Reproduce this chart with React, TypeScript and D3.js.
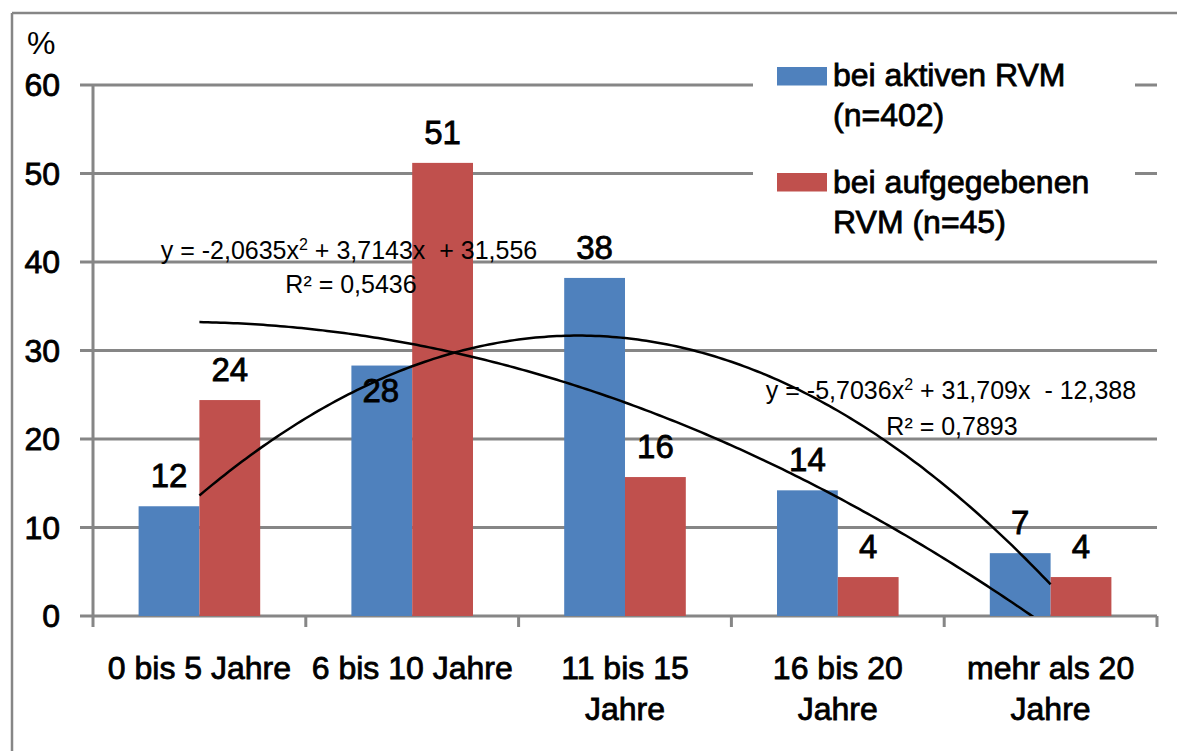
import React from "react";
import * as d3 from "d3";

const categories = ["0 bis 5 Jahre", "6 bis 10 Jahre", "11 bis 15 Jahre", "16 bis 20 Jahre", "mehr als 20 Jahre"];
const categoryLines = [["0 bis 5 Jahre"], ["6 bis 10 Jahre"], ["11 bis 15", "Jahre"], ["16 bis 20", "Jahre"], ["mehr als 20", "Jahre"]];
const activeValues = [12.4, 28.3, 38.2, 14.2, 7.1];
const abandonedValues = [24.4, 51.2, 15.7, 4.4, 4.4];
const seriesNames = [["bei aktiven RVM", "(n=402)"], ["bei aufgegebenen", "RVM (n=45)"]];
const yTicks = [0, 10, 20, 30, 40, 50, 60];
// polynomial trendline coefficients [a, b, c] for a*x^2 + b*x + c
const trendActive = [-5.7036, 31.709, -12.388];
const trendAbandoned = [-2.0635, 3.7143, 31.556];
const trendLabelActive = ["y = -5,7036x", "2", " + 31,709x  - 12,388", "R² = 0,7893"];
const trendLabelAbandoned = ["y = -2,0635x", "2", " + 3,7143x  + 31,556", "R² = 0,5436"];

const BLUE = "#4F81BD";
const RED = "#C0504D";
const GRID = "#868686";
const FONT = "'Liberation Sans', Arial, sans-serif";

export default function App() {
  const W = 1177, H = 751;
  const left = 93, right = 1157, top = 85, bottom = 616;
  const x = d3.scaleBand<string>().domain(categories).range([left, right]).paddingInner(1.5 / 3.5).paddingOuter(0.75 / 3.5);
  const sub = d3.scaleBand<number>().domain([0, 1]).range([0, x.bandwidth()]);
  const y = d3.scaleLinear().domain([0, 60]).range([bottom, top]);
  const step = x.step();
  const xNum = d3.scaleLinear().domain([1, 5]).range([
    (x(categories[0]) as number) + x.bandwidth() / 2,
    (x(categories[4]) as number) + x.bandwidth() / 2,
  ]);
  const xs = d3.range(1, 5.0001, 0.02);
  const poly = (c: number[]) => (v: number) => c[0] * v * v + c[1] * v + c[2];
  const line = d3.line<number>();
  const pathFor = (c: number[]) => {
    const f = poly(c);
    return line(xs.map((v) => [xNum(v), y(f(v))] as [number, number]));
  };
  const series = [
    { values: activeValues, color: BLUE },
    { values: abandonedValues, color: RED },
  ];
  const heavy = { stroke: "#000", strokeWidth: 0.8 };

  return (
    <svg width={W} height={H} style={{ position: "absolute", left: 0, top: 0, background: "#fff" }} fontFamily={FONT}>
      <defs>
        <clipPath id="plot">
          <rect x={left} y={top - 40} width={right - left} height={bottom - top + 40} />
        </clipPath>
      </defs>
      {/* frame */}
      <line x1={12} y1={13} x2={W} y2={13} stroke={GRID} strokeWidth={2.5} />
      <line x1={12} y1={13} x2={12} y2={H} stroke={GRID} strokeWidth={2.5} />

      {/* gridlines */}
      {yTicks.map((t) => (
        <g key={t}>
          <line x1={left - 13} x2={right} y1={y(t)} y2={y(t)} stroke={GRID} strokeWidth={3} />
          <text x={60} y={y(t) + 11} textAnchor="end" fontSize={32} fill="#000" {...heavy}>{t}</text>
        </g>
      ))}
      <text x={27} y={54} fontSize={32} fill="#000">%</text>
      {/* y axis */}
      <line x1={left} x2={left} y1={top} y2={bottom} stroke={GRID} strokeWidth={3} />
      {/* x ticks */}
      {d3.range(categories.length + 1).map((i) => (
        <line key={i} x1={left + i * step} x2={left + i * step} y1={bottom} y2={bottom + 11} stroke={GRID} strokeWidth={3} />
      ))}

      {/* bars */}
      {series.map((s, si) =>
        s.values.map((v, i) => (
          <rect key={si + "-" + i} x={(x(categories[i]) as number) + (sub(si) as number)} y={y(v)} width={sub.bandwidth()} height={y(0) - y(v)} fill={s.color} />
        ))
      )}

      {/* legend background */}
      <rect x={753} y={42} width={382} height={205} fill="#fff" />
      {series.map((s, si) => (
        <g key={si}>
          <rect x={777} y={si === 0 ? 67 : 173} width={50} height={18.5} fill={s.color} />
          {seriesNames[si].map((ln, li) => (
            <text key={li} x={833} y={(si === 0 ? 86 : 193) + li * 39.5} fontSize={32} fill="#000" {...heavy}>{ln}</text>
          ))}
        </g>
      ))}

      {/* trendlines */}
      <g clipPath="url(#plot)">
        <path d={pathFor(trendActive) || ""} fill="none" stroke="#000" strokeWidth={2.5} />
        <path d={pathFor(trendAbandoned) || ""} fill="none" stroke="#000" strokeWidth={2.5} />
      </g>

      {/* data labels */}
      {series.map((s, si) =>
        s.values.map((v, i) => {
          const cx = (x(categories[i]) as number) + (sub(si) as number) + sub.bandwidth() / 2;
          const inside = si === 0 && i === 1;
          return (
            <text key={si + "-" + i} x={cx - (inside ? 1 : 0)} y={inside ? y(v) + 36 : y(v) - 19} textAnchor="middle" fontSize={33} fill="#000" {...heavy}>
              {Math.round(v)}
            </text>
          );
        })
      )}

      {/* trend labels */}
      <text x={349} y={259} textAnchor="middle" fontSize={25} fill="#000" style={{ whiteSpace: "pre" }}>
        {trendLabelAbandoned[0]}
        <tspan dy={-9} fontSize={16}>{trendLabelAbandoned[1]}</tspan>
        <tspan dy={9}>{trendLabelAbandoned[2]}</tspan>
      </text>
      <text x={351} y={293} textAnchor="middle" fontSize={25} fill="#000">{trendLabelAbandoned[3]}</text>
      <text x={951} y={399} textAnchor="middle" fontSize={25} fill="#000" style={{ whiteSpace: "pre" }}>
        {trendLabelActive[0]}
        <tspan dy={-9} fontSize={16}>{trendLabelActive[1]}</tspan>
        <tspan dy={9}>{trendLabelActive[2]}</tspan>
      </text>
      <text x={952} y={435} textAnchor="middle" fontSize={25} fill="#000">{trendLabelActive[3]}</text>

      {/* category labels */}
      {categoryLines.map((lines, i) => (
        <text key={i} textAnchor="middle" fontSize={32} fill="#000" {...heavy}>
          {lines.map((ln, li) => (
            <tspan key={li} x={(x(categories[i]) as number) + x.bandwidth() / 2} y={679 + li * 41}>{ln}</tspan>
          ))}
        </text>
      ))}
    </svg>
  );
}
